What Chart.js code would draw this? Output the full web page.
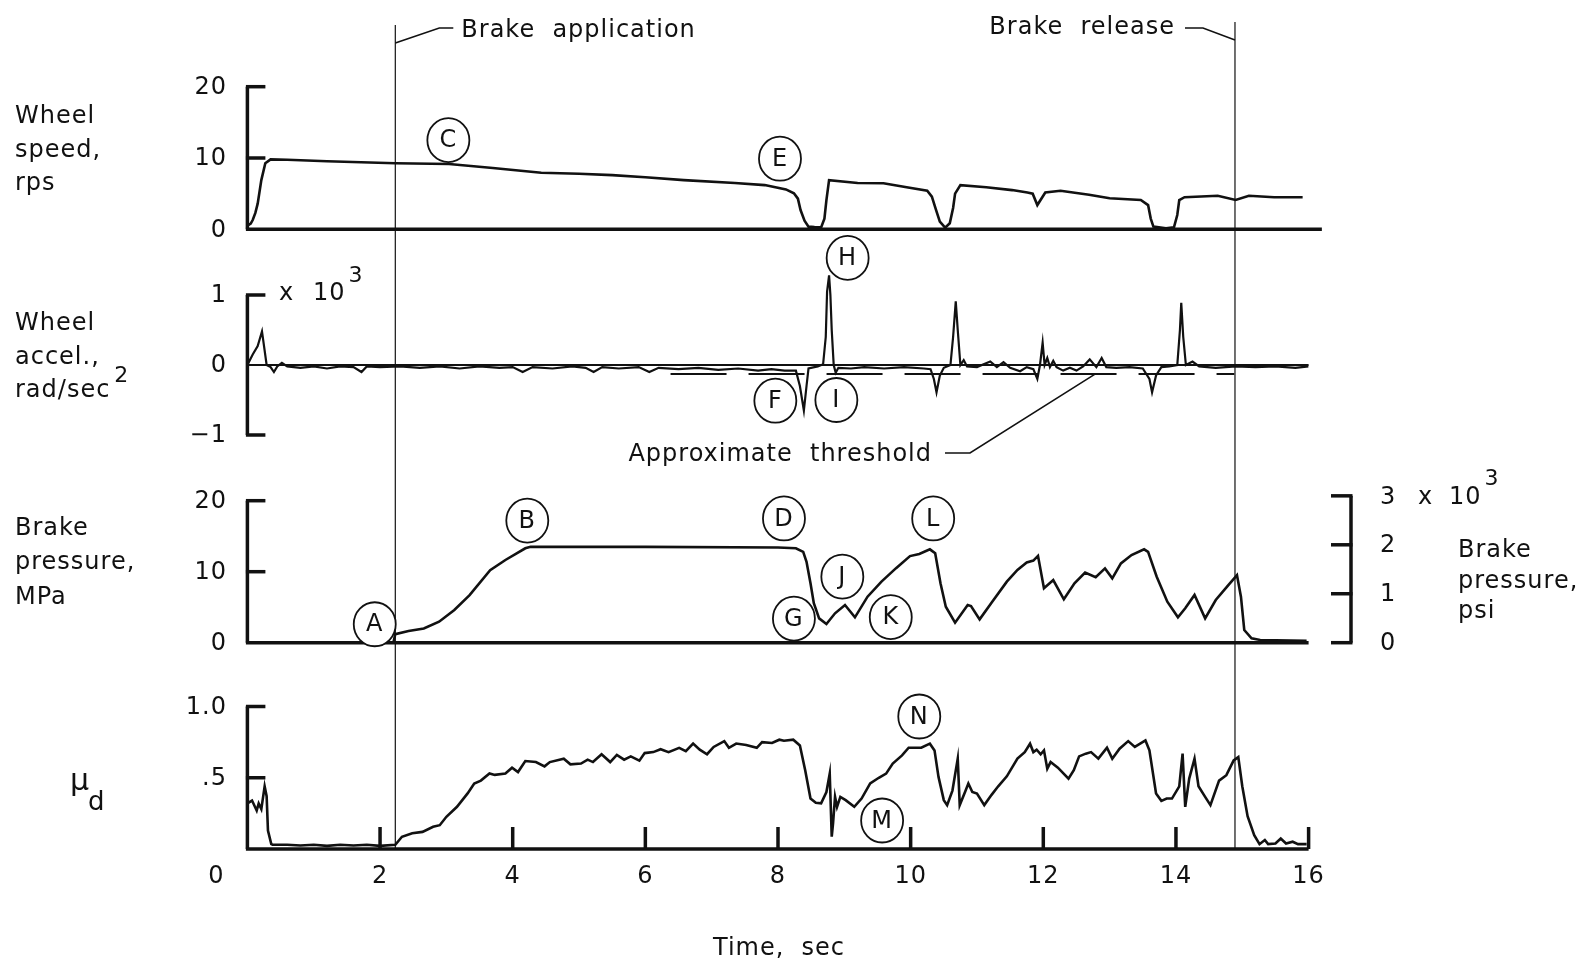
<!DOCTYPE html>
<html>
<head>
<meta charset="utf-8">
<script src="https://cdn.jsdelivr.net/npm/chart.js@4.4.1/dist/chart.umd.min.js"></script>
<style>
    html, body { margin: 0; padding: 0; background: #fff; }
    #brakeChart { display: block; }
</style>
</head>
<body>
<canvas id="brakeChart" width="1587" height="962"></canvas>
<script>
// time in seconds
const wheelSpeed = [[0, 0.5], [0.05, 0.8], [0.08, 1.3], [0.12, 2.3], [0.155, 3.6], [0.21, 6.9], [0.27, 9.26], [0.35, 9.8],
    [0.6, 9.75], [1.2, 9.55], [2.23, 9.26], [3.04, 9.16], [3.7, 8.6], [4.43, 7.94], [5.0, 7.8], [5.5, 7.6], [6.0, 7.3],
    [6.58, 6.9], [7.35, 6.5], [7.8, 6.2], [8.12, 5.6], [8.24, 5.05], [8.3, 4.3], [8.34, 2.7], [8.4, 1.2], [8.46, 0.37],
    [8.55, 0.3], [8.65, 0.27], [8.7, 1.5], [8.73, 4.1], [8.77, 6.9], [9.2, 6.5], [9.59, 6.45], [9.94, 5.9], [10.25, 5.4],
    [10.32, 4.58], [10.38, 2.8], [10.44, 1.07], [10.52, 0.23], [10.59, 0.84], [10.64, 3.0], [10.67, 5.0], [10.75, 6.2],
    [11.14, 5.9], [11.53, 5.5], [11.76, 5.16], [11.84, 5.0], [11.91, 3.4], [12.03, 5.16], [12.26, 5.4], [12.69, 4.84],
    [13.0, 4.35], [13.47, 4.11], [13.58, 3.4], [13.62, 1.5], [13.66, 0.37], [13.85, 0.14], [13.97, 0.27], [14.02, 2.0],
    [14.05, 4.11], [14.13, 4.5], [14.63, 4.7], [14.9, 4.11], [15.1, 4.7], [15.48, 4.5], [15.91, 4.5]];

// x 10^3 rad/sec^2
const wheelAccel = [[0, 0], [0.08, 0.15], [0.155, 0.27], [0.22, 0.48], [0.29, 0], [0.35, -0.03], [0.4, -0.1], [0.45, -0.02],
    [0.52, 0.03], [0.6, -0.02], [0.8, -0.04], [1.0, -0.02], [1.2, -0.05], [1.4, -0.02], [1.6, -0.03], [1.72, -0.1],
    [1.8, -0.02], [2.0, -0.03], [2.3, -0.02], [2.6, -0.04], [2.9, -0.02], [3.2, -0.05], [3.5, -0.02], [3.8, -0.04],
    [4.0, -0.03], [4.15, -0.1], [4.3, -0.03], [4.6, -0.05], [4.9, -0.02], [5.1, -0.04], [5.22, -0.1], [5.35, -0.03],
    [5.6, -0.05], [5.9, -0.03], [6.06, -0.1], [6.2, -0.04], [6.5, -0.06], [6.8, -0.04], [7.1, -0.07], [7.4, -0.05],
    [7.7, -0.08], [7.9, -0.06], [8.1, -0.08], [8.27, -0.08], [8.33, -0.3], [8.39, -0.65], [8.43, -0.3], [8.46, -0.05],
    [8.6, -0.02], [8.68, 0.01], [8.72, 0.4], [8.74, 1.05], [8.77, 1.28], [8.79, 1.0], [8.81, 0.5], [8.84, 0],
    [8.87, -0.11], [8.91, -0.04], [9.1, -0.05], [9.3, -0.03], [9.6, -0.05], [9.9, -0.03], [10.2, -0.05], [10.3, -0.06],
    [10.35, -0.2], [10.39, -0.39], [10.44, -0.15], [10.5, -0.04], [10.6, 0], [10.64, 0.4], [10.68, 0.91], [10.71, 0.5],
    [10.75, 0], [10.8, 0.07], [10.85, -0.02], [11.0, -0.03], [11.2, 0.05], [11.3, -0.03], [11.4, 0.04], [11.5, -0.04],
    [11.65, -0.09], [11.75, -0.03], [11.85, -0.06], [11.91, -0.2], [11.95, 0], [11.99, 0.32], [12.02, 0], [12.06, 0.1],
    [12.1, -0.03], [12.15, 0.06], [12.2, -0.03], [12.3, -0.08], [12.4, -0.04], [12.5, -0.08], [12.6, -0.02], [12.7, 0.08],
    [12.8, -0.03], [12.88, 0.1], [12.95, -0.03], [13.1, -0.04], [13.3, -0.03], [13.5, -0.05], [13.6, -0.2], [13.64, -0.39],
    [13.7, -0.15], [13.78, -0.03], [13.9, -0.02], [14.02, 0], [14.06, 0.5], [14.08, 0.89], [14.11, 0.4], [14.15, 0],
    [14.25, 0.05], [14.35, -0.02], [14.6, -0.04], [14.9, -0.02], [15.2, -0.03], [15.5, -0.02], [15.8, -0.04], [16.0, -0.02]];

const accelThreshold = [[6.38, -0.13], [14.88, -0.13]];

// MPa
const brakePressure = [[0, 0], [1.0, 0], [2.2, 0], [2.23, 1.2], [2.43, 1.65], [2.66, 2.0], [2.89, 2.96], [3.12, 4.6],
    [3.35, 6.7], [3.66, 10.2], [3.89, 11.65], [4.19, 13.3], [4.27, 13.5], [6.0, 13.5], [8.0, 13.4], [8.27, 13.3],
    [8.38, 12.8], [8.43, 11.4], [8.49, 8.36], [8.54, 5.55], [8.62, 3.43], [8.73, 2.64], [8.86, 4.14], [9.01, 5.31],
    [9.16, 3.57], [9.35, 6.48], [9.56, 8.6], [9.78, 10.5], [9.99, 12.2], [10.13, 12.5], [10.29, 13.15], [10.37, 12.6],
    [10.45, 8.36], [10.53, 5.07], [10.67, 2.82], [10.86, 5.31], [10.91, 5.17], [11.04, 3.29], [11.23, 5.78], [11.45, 8.6],
    [11.61, 10.25], [11.75, 11.29], [11.85, 11.57], [11.92, 12.23], [12.01, 7.66], [12.15, 8.83], [12.31, 6.11],
    [12.47, 8.36], [12.63, 9.87], [12.79, 9.21], [12.93, 10.47], [13.04, 9.06], [13.17, 11.17], [13.33, 12.35],
    [13.52, 13.15], [13.58, 12.8], [13.71, 9.3], [13.87, 5.78], [14.03, 3.57], [14.14, 4.84], [14.28, 6.72], [14.44, 3.43],
    [14.6, 6.01], [14.79, 8.12], [14.92, 9.53], [14.98, 6.48], [15.03, 1.79], [15.14, 0.61], [15.27, 0.38], [15.97, 0.28]];

const frictionCoef = [[0, 0.32], [0.07, 0.34], [0.14, 0.27], [0.17, 0.32], [0.21, 0.28], [0.26, 0.44], [0.29, 0.37],
    [0.31, 0.13], [0.36, 0.034], [0.38, 0.03], [0.6, 0.03], [0.8, 0.025], [1.0, 0.03], [1.2, 0.022], [1.4, 0.03],
    [1.6, 0.025], [1.8, 0.03], [2.0, 0.022], [2.23, 0.03], [2.33, 0.086], [2.485, 0.11], [2.64, 0.12], [2.8, 0.156],
    [2.9, 0.167], [3.0, 0.226], [3.16, 0.296], [3.32, 0.39], [3.42, 0.46], [3.52, 0.48], [3.65, 0.53], [3.73, 0.52],
    [3.89, 0.53], [3.99, 0.57], [4.08, 0.54], [4.19, 0.617], [4.35, 0.61], [4.48, 0.58], [4.56, 0.61], [4.77, 0.634],
    [4.87, 0.594], [5.03, 0.6], [5.13, 0.627], [5.21, 0.61], [5.34, 0.665], [5.47, 0.61], [5.57, 0.66], [5.68, 0.627],
    [5.78, 0.65], [5.91, 0.62], [5.99, 0.673], [6.12, 0.68], [6.23, 0.7], [6.35, 0.68], [6.51, 0.71], [6.61, 0.687],
    [6.72, 0.74], [6.82, 0.697], [6.93, 0.665], [7.03, 0.716], [7.19, 0.757], [7.26, 0.71], [7.37, 0.74], [7.52, 0.73],
    [7.68, 0.71], [7.76, 0.75], [7.91, 0.744], [8.02, 0.767], [8.09, 0.76], [8.23, 0.767], [8.33, 0.727], [8.41, 0.553],
    [8.49, 0.354], [8.57, 0.324], [8.65, 0.32], [8.73, 0.4], [8.78, 0.529], [8.81, 0.086], [8.83, 0.18], [8.86, 0.366],
    [8.89, 0.296], [8.94, 0.366], [9.02, 0.343], [9.15, 0.296], [9.26, 0.354], [9.39, 0.46], [9.52, 0.5], [9.63, 0.529],
    [9.73, 0.6], [9.87, 0.657], [9.97, 0.711], [10.16, 0.711], [10.29, 0.739], [10.36, 0.692], [10.42, 0.506],
    [10.5, 0.343], [10.55, 0.308], [10.63, 0.41], [10.71, 0.634], [10.74, 0.308], [10.82, 0.4], [10.87, 0.46],
    [10.93, 0.4], [11.0, 0.389], [11.11, 0.308], [11.22, 0.38], [11.32, 0.44], [11.45, 0.51], [11.61, 0.634],
    [11.72, 0.68], [11.8, 0.739], [11.85, 0.68], [11.9, 0.697], [11.96, 0.665], [12.01, 0.692], [12.06, 0.564],
    [12.11, 0.61], [12.22, 0.571], [12.38, 0.494], [12.46, 0.553], [12.54, 0.65], [12.64, 0.669], [12.72, 0.68],
    [12.83, 0.634], [12.96, 0.711], [13.04, 0.634], [13.15, 0.704], [13.28, 0.757], [13.38, 0.716], [13.54, 0.762],
    [13.6, 0.692], [13.7, 0.389], [13.78, 0.338], [13.86, 0.354], [13.94, 0.354], [14.05, 0.44], [14.1, 0.669],
    [14.14, 0.296], [14.2, 0.494], [14.28, 0.634], [14.34, 0.44], [14.44, 0.366], [14.52, 0.308], [14.65, 0.48],
    [14.76, 0.518], [14.87, 0.622], [14.94, 0.645], [15.0, 0.44], [15.08, 0.23], [15.18, 0.097], [15.26, 0.034],
    [15.34, 0.063], [15.39, 0.034], [15.5, 0.039], [15.58, 0.074], [15.66, 0.039], [15.76, 0.051], [15.84, 0.034],
    [15.97, 0.034]];

const brakeApplication = 2.23;
const brakeRelease = 14.89;

const timeTicks = [0, 2, 4, 6, 8, 10, 12, 14, 16];
const speedTicks = [0, 10, 20];
const accelTicks = [-1, 0, 1];
const accelTickLabels = ['\u22121', '0', '1'];
const pressureTicks = [0, 10, 20];
const psiTicks = [0, 1, 2, 3];
const muTicks = [0.5, 1.0];
const muTickLabels = ['.5', '1.0'];

// circled event letters: [letter, panel axis, time, value]
const markers = [
    ['C', 'ySpeed', 3.03, 12.5], ['E', 'ySpeed', 8.03, 9.9],
    ['H', 'yAccel', 9.05, 1.53], ['F', 'yAccel', 7.96, -0.51], ['I', 'yAccel', 8.88, -0.5],
    ['A', 'yPress', 1.92, 2.6], ['B', 'yPress', 4.22, 17.2], ['D', 'yPress', 8.09, 17.5],
    ['G', 'yPress', 8.24, 3.4], ['J', 'yPress', 8.97, 9.3], ['K', 'yPress', 9.7, 3.6], ['L', 'yPress', 10.34, 17.5],
    ['N', 'yMu', 10.13, 0.93], ['M', 'yMu', 9.57, 0.2]
];

const TOP = 20, BOTTOM = 849;
const ink = '#111';
const font = '"DejaVu Sans", "Liberation Sans", sans-serif';

// pick min/max so that v0 lands at pixel p0 and v1 at pixel p1
function panelRange(v0, p0, v1, p1) {
    const k = (p0 - p1) / (v1 - v0);
    return { min: v0 - (BOTTOM - p0) / k, max: v1 + (p1 - TOP) / k };
}

const toXY = pairs => pairs.map(p => ({ x: p[0], y: p[1] }));

function trace(data, axis, extra) {
    return Object.assign({
        data: toXY(data),
        yAxisID: axis,
        borderColor: ink,
        borderWidth: 2.6,
        pointRadius: 0,
        tension: 0,
        fill: false
    }, extra || {});
}

const figurePlugin = {
    id: 'figure',
    afterDatasetsDraw(chart) {
        const ctx = chart.ctx;
        const s = chart.scales;
        const X = t => s.x.getPixelForValue(t);
        const Y = (id, v) => s[id].getPixelForValue(v);
        const x0 = chart.chartArea.left;

        ctx.save();
        ctx.strokeStyle = ink;
        ctx.fillStyle = ink;
        ctx.lineJoin = 'miter';

        function seg(pts, w) {
            ctx.lineWidth = w;
            ctx.beginPath();
            ctx.moveTo(pts[0][0], pts[0][1]);
            for (let i = 1; i < pts.length; i++) ctx.lineTo(pts[i][0], pts[i][1]);
            ctx.stroke();
        }
        // returns x where the drawn text ends (for left aligned text)
        function text(str, x, y, align, size, base) {
            ctx.font = (size || 24) + 'px ' + font;
            ctx.textAlign = align || 'left';
            ctx.textBaseline = base || 'alphabetic';
            ctx.letterSpacing = '1px';
            ctx.fillText(str, x, y);
            return x + ctx.measureText(str).width;
        }

        // left axes (bracket style, ticks pointing inward)
        function leftAxis(id, ticks, labels, lo, hi) {
            seg([[x0, Y(id, lo)], [x0, Y(id, hi)]], 3.5);
            ticks.forEach((v, i) => {
                const y = Y(id, v);
                if (v !== 0) seg([[x0 - 1.5, y], [x0 + 18, y]], 3.5);
                text(labels[i], 227, y + 1, 'right', 24, 'middle');
            });
        }
        leftAxis('ySpeed', speedTicks, speedTicks.map(String), 0, 20);
        seg([[x0 - 1.5, Y('ySpeed', 0)], [X(16.2), Y('ySpeed', 0)]], 3.5);

        leftAxis('yAccel', accelTicks, accelTickLabels, -1, 1);
        seg([[x0, Y('yAccel', 0)], [X(16), Y('yAccel', 0)]], 2);

        leftAxis('yPress', pressureTicks, pressureTicks.map(String), 0, 20);
        seg([[x0 - 1.5, Y('yPress', 0)], [X(16), Y('yPress', 0)]], 3.5);

        leftAxis('yMu', muTicks, muTickLabels, 0, 1);
        seg([[x0 - 1.5, Y('yMu', 0)], [X(16), Y('yMu', 0)]], 3.5);

        // time axis on the bottom panel
        timeTicks.forEach(t => {
            const x = X(t);
            if (t > 0) seg([[x, Y('yMu', 0)], [x, Y('yMu', 0) - 22]], 3.5);
            text(String(t), t === 0 ? x - 31 : x, 877, 'center', 24, 'middle');
        });
        text('Time,  sec', 779, 955, 'center');

        // right-hand psi axis on the pressure panel
        const psiToMPa = 6.89476;
        const xr = 1351;
        seg([[xr, Y('yPress', 0)], [xr, Y('yPress', 3 * psiToMPa)]], 3.5);
        psiTicks.forEach(p => {
            const y = Y('yPress', p * psiToMPa);
            seg([[xr + 1.5, y], [xr - 20, y]], 3.5);
            if (p < 3) text(String(p), 1380, y + 1, 'left', 24, 'middle');
        });
        text('3', 1380, 504);
        text('x', 1418, 504);
        const endR = text('10', 1449, 504);
        text('3', endR + 3, 485, 'left', 22);
        text('Brake', 1458, 557);
        text('pressure,', 1458, 588);
        text('psi', 1458, 618);

        // left panel titles
        text('Wheel', 15, 123);
        text('speed,', 15, 157);
        text('rps', 15, 190);
        text('Wheel', 15, 330);
        text('accel.,', 15, 364);
        const endSec = text('rad/sec', 15, 397);
        text('2', endSec + 4, 382, 'left', 22);
        text('x', 279, 300);
        const endL = text('10', 313, 300);
        text('3', endL + 3, 282, 'left', 22);
        text('Brake', 15, 535);
        text('pressure,', 15, 569);
        text('MPa', 15, 604);
        text('\u03bc', 70, 790, 'left', 30);
        text('d', 88, 810, 'left', 26);

        // brake application / release lines
        const xa = X(brakeApplication), xb = X(brakeRelease);
        seg([[xa, 25], [xa, BOTTOM]], 1.2);
        seg([[xb, 22], [xb, BOTTOM]], 1.2);
        seg([[xa, 43], [xa + 44, 28], [xa + 58, 28]], 1.6);
        text('Brake  application', xa + 66, 37);
        seg([[xb, 40], [xb - 32, 28], [xb - 50, 28]], 1.6);
        text('Brake  release', xb - 60, 34, 'right');

        // approximate threshold callout
        seg([[945, 453], [970, 453], [X(12.78), Y('yAccel', -0.13)]], 1.6);
        text('Approximate  threshold', 932, 461, 'right');

        // circled letters
        markers.forEach(m => {
            const cx = X(m[2]), cy = Y(m[1], m[3]);
            ctx.lineWidth = 1.8;
            ctx.beginPath();
            ctx.ellipse(cx, cy, 21, 22, 0, 0, Math.PI * 2);
            ctx.fillStyle = '#fff';
            ctx.fill();
            ctx.stroke();
            ctx.fillStyle = ink;
            text(m[0], cx, cy + 1, 'center', 24, 'middle');
        });

        ctx.restore();
    }
};

const chart = new Chart(document.getElementById('brakeChart'), {
    type: 'line',
    data: {
        datasets: [
            trace(wheelSpeed, 'ySpeed'),
            trace(wheelAccel, 'yAccel', { borderWidth: 2.2 }),
            trace(accelThreshold, 'yAccel', { borderWidth: 2, borderDash: [56, 22] }),
            trace(brakePressure, 'yPress'),
            trace(frictionCoef, 'yMu')
        ]
    },
    options: {
        responsive: false,
        animation: false,
        devicePixelRatio: 1,
        layout: {
            padding: { left: 247.4, right: 1587 - 1308.6, top: TOP, bottom: 962 - BOTTOM }
        },
        plugins: {
            legend: { display: false },
            tooltip: { enabled: false }
        },
        scales: {
            x: { type: 'linear', min: 0, max: 16, display: false },
            ySpeed: Object.assign({ type: 'linear', display: false }, panelRange(0, 229.3, 20, 86.7)),
            yAccel: Object.assign({ type: 'linear', display: false }, panelRange(0, 365, 1, 295)),
            yPress: Object.assign({ type: 'linear', display: false }, panelRange(0, 642.7, 20, 500.7)),
            yMu: Object.assign({ type: 'linear', display: false }, panelRange(0, 849, 1, 706.5))
        }
    },
    plugins: [figurePlugin]
});
</script>
</body>
</html>
